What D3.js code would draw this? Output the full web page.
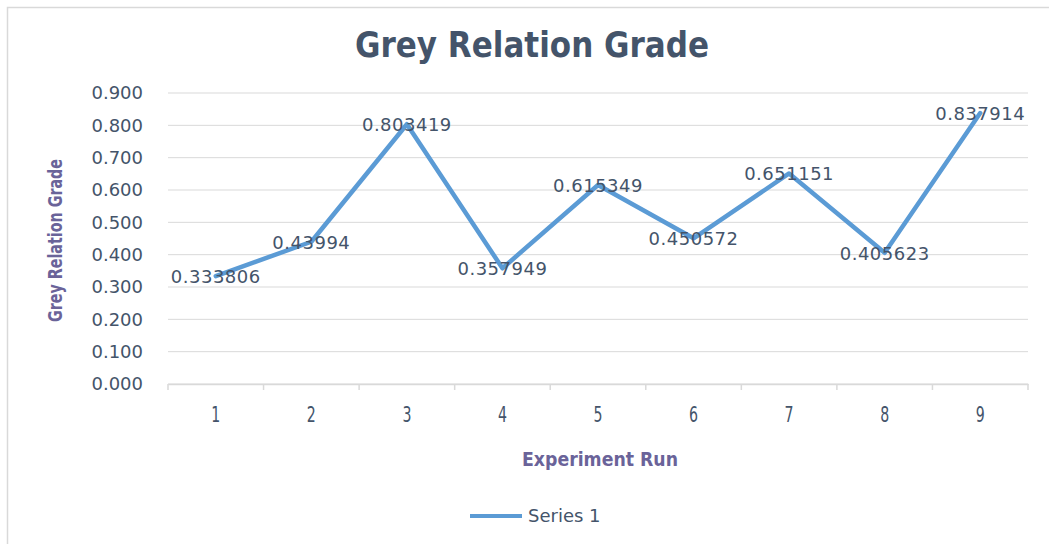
<!DOCTYPE html>
<html>
<head>
<meta charset="utf-8">
<script src="https://cdn.jsdelivr.net/npm/d3@7"></script>
<style>
  body { margin: 0; background: #fff; }
  svg { display: block; }
</style>
</head>
<body>
<div id="chart"></div>
<script>
"use strict"

// data
const runs = ["1", "2", "3", "4", "5", "6", "7", "8", "9"];
const grades = [0.333806, 0.43994, 0.803419, 0.357949, 0.615349, 0.450572, 0.651151, 0.405623, 0.837914];
const labels = ["0.333806", "0.43994", "0.803419", "0.357949", "0.615349", "0.450572", "0.651151", "0.405623", "0.837914"];
const yTicks = [0, 0.1, 0.2, 0.3, 0.4, 0.5, 0.6, 0.7, 0.8, 0.9];

const width = 1049, height = 544;
const margin = { top: 93, right: 21, bottom: 160, left: 168 };
const narrow = "'DejaVu Sans Condensed', 'Liberation Sans Narrow', sans-serif";
const wide = "'DejaVu Sans', sans-serif";
const textCol = "#44546a";
const titleCol = "#6a6399";

const svg = d3.select("#chart").append("svg")
  .attr("width", width)
  .attr("height", height);

// chart frame
svg.append("rect")
  .attr("x", 7.5).attr("y", 7.5)
  .attr("width", width + 10).attr("height", height + 10)
  .attr("fill", "#fff")
  .attr("stroke", "#d9d9d9")
  .attr("stroke-width", 1.5);

const x = d3.scaleBand()
  .domain(runs)
  .range([margin.left, width - margin.right]);

const y = d3.scaleLinear()
  .domain([0, 0.9])
  .range([height - margin.bottom, margin.top]);

// gridlines
svg.append("g")
  .selectAll("line")
  .data(yTicks)
  .join("line")
    .attr("x1", margin.left)
    .attr("x2", width - margin.right)
    .attr("y1", d => y(d))
    .attr("y2", d => y(d))
    .attr("stroke", "#d9d9d9")
    .attr("stroke-width", 1);

// y axis labels
const yAxis = svg.append("g")
  .attr("transform", `translate(${margin.left - 25},0)`)
  .call(d3.axisLeft(y).tickValues(yTicks).tickFormat(d3.format(".3f")).tickSize(0).tickPadding(0));
yAxis.select(".domain").remove();
yAxis.selectAll("text")
  .attr("fill", textCol)
  .style("font-family", wide)
  .style("font-size", "18px");

// x axis
const xAxis = svg.append("g")
  .attr("transform", `translate(0,${y(0)})`)
  .call(d3.axisBottom(x).tickSize(0).tickPadding(23));
xAxis.select(".domain")
  .attr("stroke", "#d9d9d9")
  .attr("stroke-width", 1.5);
xAxis.selectAll("text")
  .attr("fill", textCol)
  .attr("textLength", 9)
  .attr("lengthAdjust", "spacingAndGlyphs")
  .style("font-family", narrow)
  .style("font-size", "21px");

// category boundary ticks
svg.append("g")
  .selectAll("line")
  .data(runs.concat(["end"]))
  .join("line")
    .attr("x1", (d, i) => margin.left + i * x.step())
    .attr("x2", (d, i) => margin.left + i * x.step())
    .attr("y1", y(0))
    .attr("y2", y(0) + 6)
    .attr("stroke", "#d9d9d9")
    .attr("stroke-width", 1.5);

// series line
const line = d3.line()
  .x((d, i) => x(runs[i]) + x.bandwidth() / 2)
  .y(d => y(d));

svg.append("path")
  .datum(grades)
  .attr("fill", "none")
  .attr("stroke", "#5b9bd5")
  .attr("stroke-width", 4.5)
  .attr("stroke-linejoin", "round")
  .attr("stroke-linecap", "round")
  .attr("d", line);

// data labels
svg.append("g")
  .selectAll("text")
  .data(grades)
  .join("text")
    .attr("x", (d, i) => x(runs[i]) + x.bandwidth() / 2)
    .attr("y", d => y(d))
    .attr("dy", "0.38em")
    .attr("text-anchor", "middle")
    .attr("fill", textCol)
    .style("font-family", wide)
    .style("font-size", "18px")
    .style("letter-spacing", "0.5px")
    .text((d, i) => labels[i]);

// title
svg.append("text")
  .attr("x", 532)
  .attr("y", 57)
  .attr("text-anchor", "middle")
  .attr("fill", textCol)
  .attr("textLength", 354)
  .attr("lengthAdjust", "spacingAndGlyphs")
  .style("font-family", narrow)
  .style("font-weight", "bold")
  .style("font-size", "36px")
  .text("Grey Relation Grade");

// axis titles
svg.append("text")
  .attr("x", 600)
  .attr("y", 466)
  .attr("text-anchor", "middle")
  .attr("fill", titleCol)
  .attr("textLength", 156)
  .attr("lengthAdjust", "spacingAndGlyphs")
  .style("font-family", narrow)
  .style("font-weight", "bold")
  .style("font-size", "20px")
  .text("Experiment Run");

svg.append("text")
  .attr("transform", `translate(62,${(y(0) + y(0.9)) / 2 + 2}) rotate(-90)`)
  .attr("text-anchor", "middle")
  .attr("fill", titleCol)
  .attr("textLength", 163)
  .attr("lengthAdjust", "spacingAndGlyphs")
  .style("font-family", narrow)
  .style("font-weight", "bold")
  .style("font-size", "20px")
  .text("Grey Relation Grade");

// legend
const legend = svg.append("g").attr("transform", "translate(470,516)");
legend.append("line")
  .attr("x1", 0).attr("x2", 52)
  .attr("stroke", "#5b9bd5")
  .attr("stroke-width", 4);
legend.append("text")
  .attr("x", 58)
  .attr("dy", "0.36em")
  .attr("fill", textCol)
  .style("font-family", wide)
  .style("font-size", "18px")
  .text("Series 1");
</script>
</body>
</html>
